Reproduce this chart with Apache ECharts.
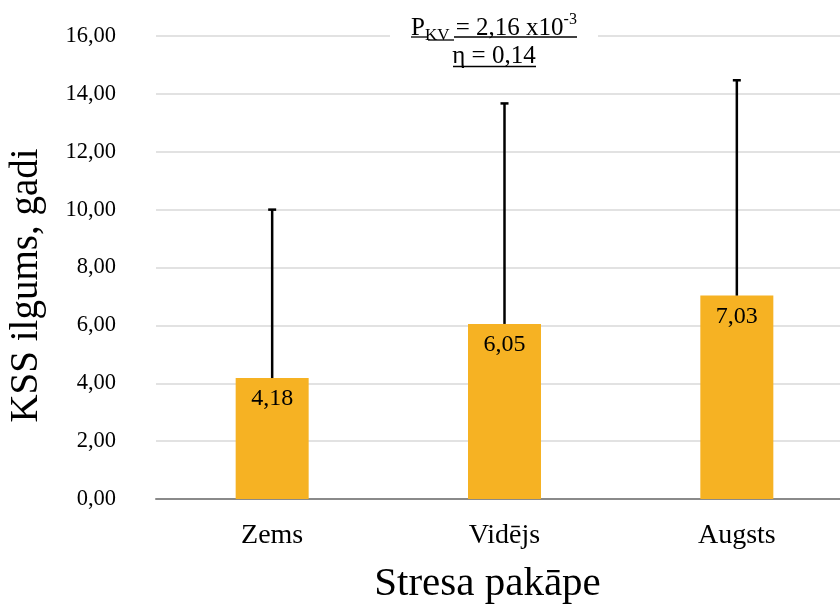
<!DOCTYPE html>
<html>
<head>
<meta charset="utf-8">
<script src="https://cdn.jsdelivr.net/npm/echarts@6/dist/echarts.min.js"></script>
<style>html,body{margin:0;padding:0;background:#fff}#c{width:840px;height:604px}</style>
</head>
<body>
<div id="c"></div>
<script>
const categories = ['Zems', 'Vidējs', 'Augsts'];
const meanValues = [4.18, 6.05, 7.03];
const upperValues = [10.0, 13.67, 14.47];
const yMin = 0, yMax = 16, yStep = 2;

const FONT = '"Liberation Serif", "Times New Roman", serif';
const fmt = v => v.toFixed(2).replace('.', ',');

const chart = echarts.init(document.getElementById('c'), null, {renderer: 'canvas'});
chart.setOption({
  animation: false,
  backgroundColor: '#fff',
  grid: {left: 156, right: -13, top: 36, bottom: 105, containLabel: false, outerBoundsMode: 'none'},
  xAxis: {
    type: 'category',
    data: categories,
    axisLine: {lineStyle: {color: '#8a8a8a', width: 2}},
    axisTick: {show: false},
    axisLabel: {fontFamily: FONT, fontSize: 28, color: '#000', margin: 23},
    name: 'Stresa pakāpe',
    nameLocation: 'middle',
    nameGap: 65,
    nameTextStyle: {fontFamily: FONT, fontSize: 41, color: '#000', padding: [0, 34, 0, 0]}
  },
  yAxis: {
    type: 'value',
    min: yMin, max: yMax, interval: yStep,
    axisLine: {show: false},
    axisTick: {show: false},
    splitLine: {lineStyle: {color: '#d9d9d9', width: 1.5}},
    axisLabel: {fontFamily: FONT, fontSize: 22.5, color: '#000', margin: 40, formatter: v => fmt(v)},
    name: 'KSS ilgums, gadi',
    nameLocation: 'middle',
    nameGap: 110,
    nameRotate: 90,
    nameTextStyle: {fontFamily: FONT, fontSize: 39, color: '#000', padding: [0, 36, 0, 0]}
  },
  series: [
    {
      type: 'bar',
      data: meanValues,
      barWidth: 73,
      itemStyle: {color: '#F6B223'},
      label: {
        show: true, position: 'insideTop', distance: 9,
        fontFamily: FONT, fontSize: 24, color: '#000',
        formatter: p => fmt(p.value)
      },
      z: 2
    },
    {
      type: 'custom',
      data: categories.map((c, i) => [i, meanValues[i], upperValues[i]]),
      z: 5,
      renderItem: function (params, api) {
        const base = api.coord([api.value(0), api.value(1)]);
        const top = api.coord([api.value(0), api.value(2)]);
        return {
          type: 'group',
          children: [
            {type: 'line', shape: {x1: base[0], y1: base[1], x2: top[0], y2: top[1]},
             style: {stroke: '#000', lineWidth: 2.5}},
            {type: 'line', shape: {x1: top[0] - 4, y1: top[1], x2: top[0] + 4, y2: top[1]},
             style: {stroke: '#000', lineWidth: 2.5}}
          ]
        };
      }
    }
  ],
  graphic: [
    {type: 'rect', shape: {x: 390, y: 14, width: 208, height: 58}, style: {fill: '#fff'}, z: 50},
    {
      type: 'text', x: 494, y: 12, z: 60,
      style: {
        text: '{p|P}{s|KV}{n| = 2,16 x10}{u|-3}',
        align: 'center', verticalAlign: 'top',
        rich: {
          p: {fontFamily: FONT, fontSize: 25, lineHeight: 32, verticalAlign: 'middle', fill: '#000'},
          n: {fontFamily: FONT, fontSize: 25, lineHeight: 32, verticalAlign: 'middle', fill: '#000'},
          s: {fontFamily: FONT, fontSize: 17, lineHeight: 14, verticalAlign: 'bottom', fill: '#000'},
          u: {fontFamily: FONT, fontSize: 16, lineHeight: 15, verticalAlign: 'top', fill: '#000'}
        }
      }
    },
    {type: 'line', z: 60, shape: {x1: 411, y1: 37, x2: 428, y2: 37}, style: {stroke: '#000', lineWidth: 1.3}},
    {type: 'line', z: 60, shape: {x1: 428, y1: 40, x2: 454, y2: 40}, style: {stroke: '#000', lineWidth: 1.3}},
    {type: 'line', z: 60, shape: {x1: 454, y1: 37, x2: 577, y2: 37}, style: {stroke: '#000', lineWidth: 1.3}},
    {
      type: 'text', x: 494, y: 44, z: 60,
      style: {text: 'η = 0,14', fontFamily: FONT, fontSize: 25, fill: '#000', align: 'center', verticalAlign: 'top'}
    },
    {type: 'line', z: 60, shape: {x1: 453, y1: 66.5, x2: 536, y2: 66.5}, style: {stroke: '#000', lineWidth: 1.3}}
  ]
});
</script>
</body>
</html>
